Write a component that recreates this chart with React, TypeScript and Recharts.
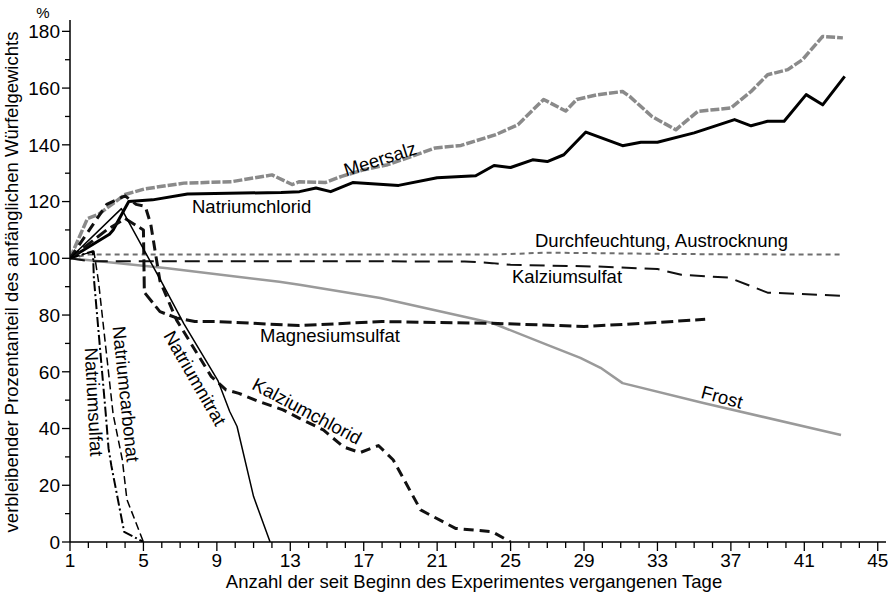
import React from 'react';
import { LineChart, Line, XAxis, YAxis } from 'recharts';

const FONT = '"Liberation Sans", Arial, Helvetica, sans-serif';

// [Tag, verbleibender Prozentanteil]
const meersalz = [
  [1, 100], [1.95, 114], [2.55, 115.5], [4, 122.5], [5.1, 124.5], [7.2, 126.5], [9.8, 127],
  [12, 129.4], [13.1, 126], [13.5, 127], [14.9, 126.7], [15.8, 128.9], [17, 131.2], [18.3, 133],
  [19.6, 135.9], [20.9, 138.9], [22.3, 139.8], [24.2, 143.6], [25.4, 147.1], [26.8, 156],
  [28, 151.9], [28.6, 156], [29.7, 157.6], [31.1, 158.8], [31.5, 157], [32.7, 150], [34, 145.3],
  [35.2, 151.8], [37, 153], [38.1, 158.8], [39, 164.7], [40.1, 166.5], [40.9, 170], [42, 178.2],
  [43.1, 177.7],
];
const natriumchlorid = [
  [1, 100], [3.15, 108.5], [3.35, 110], [4.2, 120], [5.5, 120.6], [7.4, 122.7], [12.5, 123.2],
  [13.5, 123.5], [14.4, 124.8], [15.2, 123.5], [16.4, 126.7], [18.9, 125.7], [21, 128.4],
  [23.1, 129.1], [24.1, 132.7], [25, 132], [26.2, 134.7], [27, 134.1], [27.9, 136.5],
  [29.1, 144.5], [31.1, 139.7], [32.1, 140.9], [33, 140.9], [35, 144.2], [37.2, 148.9],
  [38.1, 146.7], [39, 148.3], [39.9, 148.3], [41.1, 157.7], [42, 154.1], [43.2, 164.1],
];
const durchfeuchtung = [
  [1, 100], [2, 101.3], [24, 101.3], [27, 102], [34, 101.5], [43, 101.3],
];
const kalziumsulfat = [
  [1, 100], [2, 99], [22.5, 98.9], [24, 98.3], [25, 97.7], [29.7, 97.1], [33, 96.2],
  [34.3, 94.2], [36.9, 93.2], [39, 87.9], [43.1, 86.8],
];
const frost = [
  [1, 100], [6.3, 96.5], [12.4, 91.7], [13.5, 90.7], [17.9, 86], [24, 77.2], [27, 69.5],
  [28.8, 64.9], [29.9, 61.4], [31.1, 56], [35.5, 49], [43, 37.7],
];
const magnesiumsulfat = [
  [1, 100], [3, 110], [4, 114], [5, 110], [5.05, 88], [5.9, 81.2], [6.8, 79], [7.8, 77.7],
  [9, 77.7], [13.5, 76.3], [18, 77.7], [24, 77.1], [29, 76], [32.3, 77.1], [35.6, 78.5],
];
const kalziumchlorid = [
  [1, 100], [3, 119], [4, 122], [4.6, 119], [5.1, 118.3], [5.4, 112], [5.9, 92], [6.8, 78.3],
  [8.7, 58.3], [9.5, 53.6], [10.2, 52.4], [11.3, 49.5], [12.6, 46.6], [13.5, 43.6], [14.8, 39.5],
  [15.9, 33.5], [16.8, 31.5], [17.8, 34], [18.6, 29], [20.1, 11.3], [22, 4.8], [24, 3.6], [25, 0],
];
const natriumnitrat = [
  [1, 100], [3.8, 117.5], [6, 91.5], [7.2, 77], [9.05, 57], [9.7, 46], [10.1, 40.7], [11, 16],
  [11.9, 0],
];
const natriumcarbonat = [
  [1, 100], [2.3, 102.5], [2.55, 92], [3.35, 45], [3.85, 29], [4.1, 15], [5, 0],
];
const natriumsulfat = [
  [1, 100], [2.25, 102.5], [2.3, 93], [2.95, 45], [3.1, 33], [3.25, 27], [3.95, 3.6], [5, 0],
];

const xTicks = [
  1, 2, 3, 4, 5, 6, 7, 8, 9, 10, 11, 12, 13, 14, 15, 16, 17, 18, 19, 20, 21, 22, 23,
  24, 25, 26, 27, 28, 29, 30, 31, 32, 33, 34, 35, 36, 37, 38, 39, 40, 41, 42, 43, 44, 45,
];
const xLabels = [1, 5, 9, 13, 17, 21, 25, 29, 33, 37, 41, 45];
const yTicks = [0, 10, 20, 30, 40, 50, 60, 70, 80, 90, 100, 110, 120, 130, 140, 150, 160, 170, 180];
const yLabels = [0, 20, 40, 60, 80, 100, 120, 140, 160, 180];

const toPoints = (pts: number[][]) => pts.map(([day, v]) => ({ day, v }));

const series = [
  { name: 'Frost', pts: frost, stroke: '#9a9a9a', width: 2.5, dash: undefined },
  { name: 'Durchfeuchtung', pts: durchfeuchtung, stroke: '#6e6e6e', width: 2, dash: '5 4' },
  { name: 'Kalziumsulfat', pts: kalziumsulfat, stroke: '#111', width: 2, dash: '15 8' },
  { name: 'Meersalz', pts: meersalz, stroke: '#8a8a8a', width: 3.5, dash: '9 2' },
  { name: 'Natriumchlorid', pts: natriumchlorid, stroke: '#000', width: 3, dash: undefined },
  { name: 'Magnesiumsulfat', pts: magnesiumsulfat, stroke: '#111', width: 3, dash: '12 5' },
  { name: 'Kalziumchlorid', pts: kalziumchlorid, stroke: '#111', width: 3, dash: '10 6' },
  { name: 'Natriumnitrat', pts: natriumnitrat, stroke: '#000', width: 1.5, dash: undefined },
  { name: 'Natriumcarbonat', pts: natriumcarbonat, stroke: '#000', width: 1.5, dash: '8 4' },
  { name: 'Natriumsulfat', pts: natriumsulfat, stroke: '#000', width: 2, dash: '10 3 2 3' },
];

const XTick = (props: any) => {
  const { x, y, payload } = props;
  const major = xLabels.includes(payload.value);
  return (
    <g>
      <line x1={x} x2={x} y1={y} y2={y + (major ? 9 : 6)} stroke="#000" strokeWidth={1.3} />
      {major && (
        <text x={x} y={y + 25} textAnchor="middle" fontSize={19} fontFamily={FONT} fill="#000">
          {payload.value}
        </text>
      )}
    </g>
  );
};

const YTick = (props: any) => {
  const { x, y, payload } = props;
  const major = yLabels.includes(payload.value);
  return (
    <g>
      <line x1={x - (major ? 8 : 5)} x2={x} y1={y} y2={y} stroke="#000" strokeWidth={1.3} />
      {major && (
        <text x={x - 10} y={y} dy="0.36em" textAnchor="end" fontSize={19} fontFamily={FONT} fill="#000">
          {payload.value}
        </text>
      )}
    </g>
  );
};

const labelStyle = { fontSize: 18.5, fontFamily: FONT, fill: '#000' };

const App = () => {
  return (
    <div style={{ position: 'absolute', left: 0, top: 0, width: 892, height: 593, background: '#fff' }}>
      <LineChart width={892} height={593} margin={{ top: 20, right: 6, bottom: 0, left: 0 }}>
        <XAxis
          dataKey="day"
          type="number"
          domain={[1, 45.45]}
          ticks={xTicks}
          interval={0}
          height={51}
          tickSize={0}
          tickMargin={0}
          tickLine={false}
          tick={<XTick />}
          axisLine={{ stroke: '#000', strokeWidth: 1.5 }}
          allowDataOverflow
        />
        <YAxis
          type="number"
          domain={[0, 184]}
          ticks={yTicks}
          interval={0}
          width={70}
          tickSize={0}
          tickMargin={0}
          tickLine={false}
          tick={<YTick />}
          axisLine={{ stroke: '#000', strokeWidth: 1.5 }}
          allowDataOverflow
        />
        {series.map((s) => (
          <Line
            key={s.name}
            name={s.name}
            data={toPoints(s.pts)}
            dataKey="v"
            type="linear"
            stroke={s.stroke}
            strokeWidth={s.width}
            strokeDasharray={s.dash}
            strokeLinejoin="round"
            dot={false}
            activeDot={false}
            isAnimationActive={false}
          />
        ))}
      </LineChart>
      <svg
        width={892}
        height={593}
        style={{ position: 'absolute', left: 0, top: 0, pointerEvents: 'none' }}
      >
        <text x={43} y={18} textAnchor="middle" fontSize={15} fontFamily={FONT}>%</text>
        <text
          transform="translate(18,282) rotate(-90)"
          textAnchor="middle"
          fontSize={18.5}
          fontFamily={FONT}
        >
          verbleibender Prozentanteil des anfänglichen Würfelgewichts
        </text>
        <text x={474} y={588} textAnchor="middle" fontSize={18.5} fontFamily={FONT}>
          Anzahl der seit Beginn des Experimentes vergangenen Tage
        </text>

        <text transform="translate(380,159) rotate(-17.7)" textAnchor="middle" dy="0.35em" {...labelStyle}>Meersalz</text>
        <text x={192} y={213} {...labelStyle}>Natriumchlorid</text>
        <text x={535} y={247} {...labelStyle}>Durchfeuchtung, Austrocknung</text>
        <text x={512} y={283} {...labelStyle}>Kalziumsulfat</text>
        <text x={260} y={342} {...labelStyle}>Magnesiumsulfat</text>
        <text transform="translate(722,397) rotate(15)" textAnchor="middle" dy="0.35em" {...labelStyle}>Frost</text>
        <text transform="translate(307,411) rotate(28)" textAnchor="middle" dy="0.35em" {...labelStyle}>Kalziumchlorid</text>
        <text transform="translate(195,378) rotate(60)" textAnchor="middle" dy="0.35em" {...labelStyle}>Natriumnitrat</text>
        <text transform="translate(126,394) rotate(84)" textAnchor="middle" dy="0.35em" {...labelStyle}>Natriumcarbonat</text>
        <text transform="translate(94,402) rotate(87)" textAnchor="middle" dy="0.35em" {...labelStyle}>Natriumsulfat</text>
      </svg>
    </div>
  );
};

export default App;
